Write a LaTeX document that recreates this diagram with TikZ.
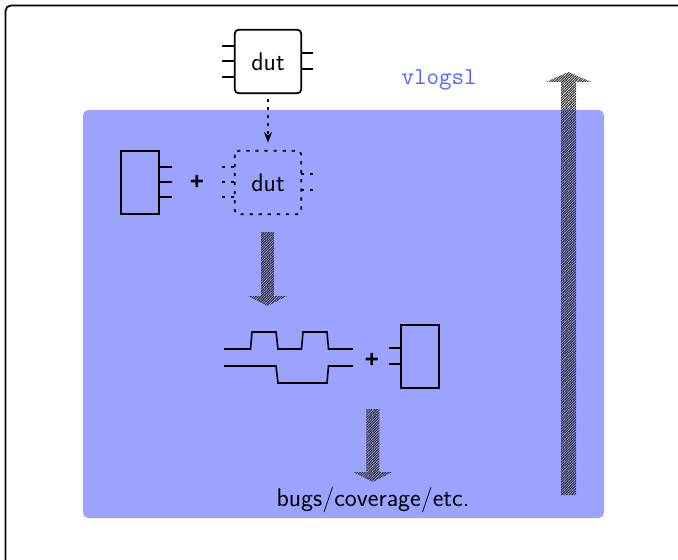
\documentclass[tikz,border=0pt]{standalone}
\usepackage{fontspec}
\newfontfamily\plusfont{Liberation Sans}
\usetikzlibrary{patterns.meta,calc,arrows.meta}
\definecolor{panel}{RGB}{156,163,255}
\definecolor{vtext}{RGB}{84,100,255}
\tikzset{
  x=0.75pt,y=-0.75pt,
  wire/.style={line width=1.2pt},
  frameline/.style={line width=1.3pt},
  boxed/.style={inner sep=0pt,minimum width=49.5pt,minimum height=47.25pt},
  tall/.style={inner sep=0pt,minimum width=28.5pt,minimum height=47.25pt},
  label/.style={font=\fontsize{19.1}{22}\selectfont\sffamily,inner sep=0pt},
  plussign/.style={font=\fontsize{18}{20}\selectfont\plusfont\bfseries,inner sep=0pt},
  hatch/.style={pattern={Lines[angle=45,distance=1.35pt,line width=0.8pt]},pattern color=black!80},
  dots/.style={line width=1.3pt,dash pattern=on 2.4pt off 4.4pt},
}
\newcommand{\blockarrow}[4]{% start, tip, half shaft, head length
  \fill[hatch] ($(#1)+(-#3,0)$) -- ($(#2)+(-#3,#4)$) -- ($(#2)+(-#3*3,#4)$) -- (#2)
    -- ($(#2)+(#3*3,#4)$) -- ($(#2)+(#3,#4)$) -- ($(#1)+(#3,0)$) -- cycle;}
\begin{document}
\begin{tikzpicture}
\useasboundingbox (0,0) rectangle (678,560);
\clip (0,0) rectangle (678,560);
\fill[white] (0,0) rectangle (678,560);
\draw[frameline,rounded corners=4pt] (5.5,5.5) rectangle (720,600);
\fill[panel,rounded corners=4pt] (83,110) rectangle (604,518);

\node[font=\fontsize{18.2}{22}\selectfont\ttfamily,text=vtext,inner sep=0pt] (vl) at (439,79.5) {vlogsl};

% first dut
\node[boxed,label] (dutA) at (268,61.5) {dut};
\draw[frameline,rounded corners=3pt] (dutA.north west) rectangle (dutA.south east);
\foreach \y in {46,61,77}{\draw[wire] (222,\y) -- (235,\y);}
\foreach \y in {53,69}{\draw[wire] (301,\y) -- (313,\y);}

% dotted dut
\node[boxed,label] (dutB) at (268,182.5) {dut};
\draw[dots,rounded corners=3pt] (dutB.north west) rectangle (dutB.south east);
\foreach \y in {167,182,197}{\draw[dots] (222,\y) -- (235,\y);}
\foreach \y in {174,190}{\draw[dots] (301,\y) -- (313,\y);}
\draw[line width=1.2pt,dash pattern=on 2.5pt off 3.5pt,-{Stealth[length=8pt,width=6pt]},shorten <=4pt,shorten >=6pt] (dutA) -- (dutB);

% driver box
\node[tall] (drv) at (140,182.5) {};
\draw[frameline] (drv.north west) rectangle (drv.south east);
\foreach \y in {167,182,197}{\draw[wire] (159,\y) -- (172,\y);}
\node[plussign] (plusA) at (197,182) {+};

% waves
\coordinate (wA) at (224,349);
\coordinate (wB) at (224,366);
\draw[wire] (wA) -- (250.5,349) -- (252,332) -- (276,332) -- (278,349) -- (301.5,349) -- (303,332) -- (327,332) -- (328.5,349) -- (353,349);
\draw[wire] (wB) -- (276,366) -- (278,383) -- (327,383) -- (328.5,366) -- (353,366);
\node[plussign] (plusB) at (372,360) {+};

% monitor box
\node[tall] (mon) at (420,356.5) {};
\draw[frameline] (mon.north west) rectangle (mon.south east);
\foreach \y in {348,364}{\draw[wire] (389,\y) -- (401,\y);}

\node[label] (out) at (373,500.5) {bugs/coverage/etc.};

% block arrows
\coordinate (aS) at (267.5,232); \coordinate (aE) at (267.5,306);
\blockarrow{aS}{aE}{6.5}{-10}
\coordinate (bS) at (372.8,409); \coordinate (bE) at (372.8,482);
\blockarrow{bS}{bE}{6.5}{-10}
\coordinate (cS) at (568.5,495); \coordinate (cE) at (568.5,72);
\blockarrow{cS}{cE}{7.5}{10}
\end{tikzpicture}
\end{document}
